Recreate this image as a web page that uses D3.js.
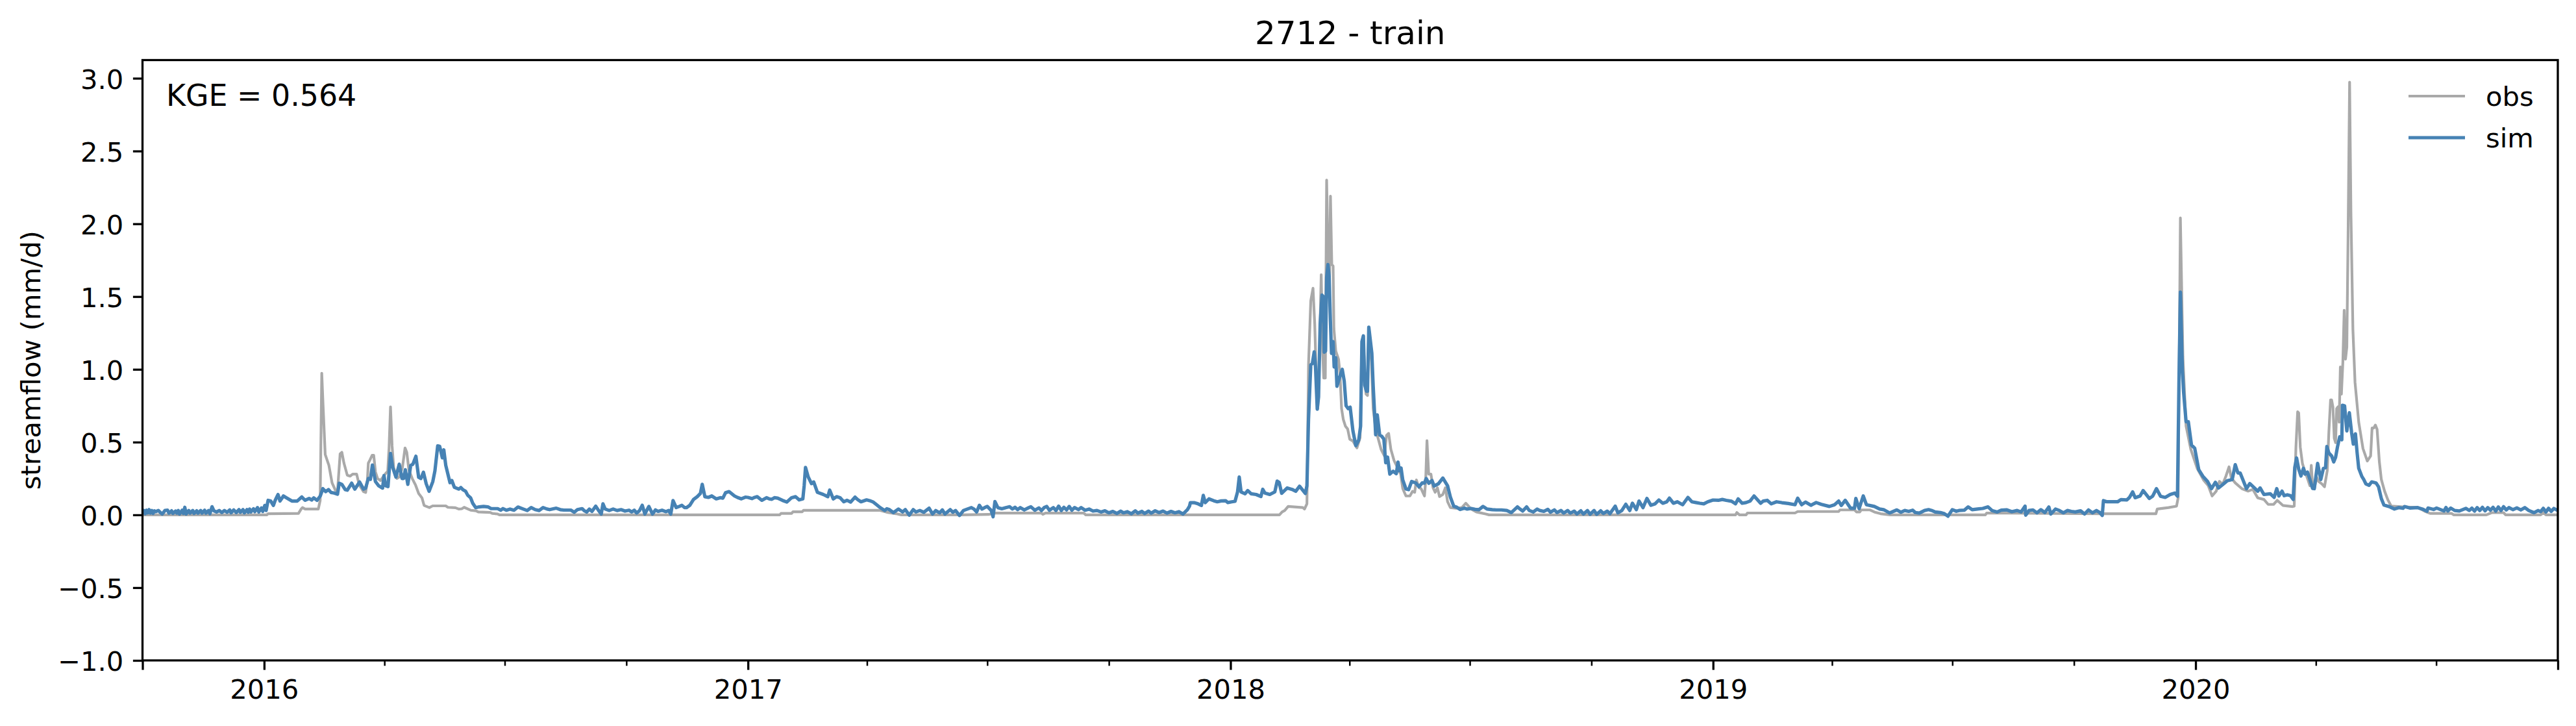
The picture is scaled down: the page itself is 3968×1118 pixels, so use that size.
<!DOCTYPE html>
<html><head><meta charset="utf-8">
<script src="https://cdn.jsdelivr.net/npm/d3@7"></script>
<style>html,body{margin:0;padding:0;background:#fff}svg{display:block}text{font-family:"DejaVu Sans";fill:#000}</style>
</head><body>
<script>
const chartTitle = "2712 - train";
const yAxisLabel = "streamflow (mm/d)";
const kgeLabel = "KGE = 0.564";
const seriesNames = ["obs", "sim"];
const yTicks = [-1, -0.5, 0, 0.5, 1, 1.5, 2, 2.5, 3];
const yRange = [-1, 3.125];
const startDate = "2015-10-01";
const endDate = "2020-10-01";
const yearTicks = ["2016-01-01","2017-01-01","2018-01-01","2019-01-01","2020-01-01"];
const edgeTicks = ["2015-10-01","2020-10-01"];

// readings are [days since 2015-10-01, mm/d]
const obs2016 = [[0,0],[94,0],[95,.008],[118,.01],[120,.04],[121,.05],[123,.04],[133,.04],[134.4,.1],[135.6,.973],[136.6,.75],[138.2,.415],[141,.34],[143.4,.22],[145.9,.17],[147.5,.16],[149.5,.42],[150.8,.43],[152.4,.355],[154.9,.273],[157,.266],[159,.28],[162,.28],[163.9,.206],[167.2,.16],[168.8,.154],[170.1,.236],[170.8,.355],[172.1,.378],[173.7,.41],[174.9,.41],[176.2,.296],[177.8,.25],[180,.236],[183.5,.28],[185.5,.3],[186.5,.46],[187.6,.742],[188.8,.474],[190,.325],[192.5,.25],[194.2,.26],[196.6,.325],[198.6,.46],[199.9,.43],[201.5,.31],[204,.25],[206.5,.206],[208.9,.147],[211.4,.117],[213,.065],[217,.05],[219.5,.062],[229.4,.062],[231,.052],[236.7,.049],[239.2,.04],[241.5,.042],[243.3,.052],[248.2,.032],[252.3,.028],[254,.02],[263,.017],[264.6,.01],[268.7,.006],[270,0]];
const obs2017 = [[270,0],[482,0],[483,.01],[491,.01],[492,.021],[499,.021],[500,.031],[558,.031],[563,.018],[570,.008],[574,0],[620,0],[640,.003],[645,.012],[680,.012],[681,.004],[683,.012],[712,.012],[713.5,0],[860,0]];
const obs2018 = [[860,0],[862,.02],[864,.03],[866.6,.058],[877.8,.05],[879,.04],[880,.06],[880.8,.076],[882,1.03],[883.7,1.47],[885.4,1.557],[886.7,1.31],[887.8,.97],[889,.73],[890.3,1.126],[891.6,1.65],[892.7,1.126],[893.5,.94],[894.7,.94],[895.7,2.3],[896.8,1.75],[897.8,1.55],[898.6,2.19],[899.6,1.72],[900.6,1.71],[901.2,1.28],[902.6,1.126],[904.7,1.07],[905.8,.97],[907,.73],[908.3,.656],[909.9,.61],[911.6,.59],[913.2,.52],[915.6,.507],[918.6,.46],[921,.53],[922.2,1.126],[923.5,1.23],[924.6,.92],[925.5,.83],[926.6,.82],[927.6,1.28],[929.6,1.05],[930.9,.73],[932.8,.59],[934.5,.53],[936.9,.45],[939.4,.405],[941,.546],[942.6,.56],[944.3,.45],[946.7,.374],[949.2,.327],[951.7,.28],[953.3,.18],[955.7,.13],[958.7,.13],[960.7,.162],[962.3,.155],[963.6,.24],[965.6,.186],[967.2,.18],[969.7,.13],[970.6,.23],[971.6,.51],[972.9,.28],[974.6,.28],[976.2,.186],[977.8,.155],[979.5,.186],[981.1,.126],[983.6,.14],[985.5,.186],[987.2,.09],[989.3,.05],[993.4,.045]];
const obs2019 = [[993.4,.045],[998,.05],[1001,.08],[1005,.04],[1009,.02],[1016,.006],[1018.6,0],[1205,0],[1206,.016],[1208,0],[1213,0],[1214,.013],[1250,.013],[1252,.023],[1283,.023],[1284,.034],[1295,.034],[1296.5,.02],[1299,.02],[1300,.034],[1306.8,.034],[1310,.02],[1314.7,.008],[1322,0],[1394,0],[1395,.013],[1481,.008],[1523,.008],[1524,.04],[1532.6,.05],[1538.6,.06]];
const obs2020 = [[1538.6,.06],[1539.8,.117],[1541.5,2.04],[1543.4,1.085],[1545.8,.61],[1549.4,.45],[1554.2,.32],[1559,.24],[1562.6,.2],[1565.5,.13],[1568.6,.163],[1571,.23],[1573.5,.21],[1575.9,.265],[1578.3,.33],[1580,.254],[1583,.22],[1588,.18],[1592.7,.163],[1596.3,.175],[1600,.117],[1604.7,.106],[1607.9,.072],[1612,.072],[1614.8,.1],[1619,.065],[1626.4,.057],[1627.6,.06],[1628.9,.465],[1630.2,.708],[1631,.7],[1632.2,.465],[1633.8,.354],[1635.5,.304],[1637.9,.243],[1639.5,.2],[1640.5,.34],[1641.5,.2],[1642.8,.18],[1644.5,.26],[1646,.23],[1648.5,.213],[1650.5,.193],[1652.6,.304],[1653.8,.567],[1655.1,.79],[1655.9,.79],[1656.9,.74],[1657.9,.526],[1658.9,.496],[1659.7,.73],[1660.8,.743],[1661.6,.637],[1662.5,1.016],[1663.3,.83],[1664.4,1.05],[1665.4,1.406],[1666.4,1.07],[1667.4,1.153],[1668.3,1.88],[1669.5,2.973],[1670.5,2.08],[1672,1.274],[1673.6,.91],[1676.4,.637],[1679.6,.456],[1682.9,.37],[1685.4,.405],[1686.5,.597],[1687.8,.597],[1689,.617],[1690.3,.587],[1692,.365],[1693.5,.243],[1696,.162],[1698.5,.102],[1701,.06],[1710,.055],[1721.4,.05],[1726.3,.025],[1730.4,.01],[1746.7,.01],[1748.4,0],[1773,0],[1777,.015],[1786,.015],[1787.5,0],[1814,0],[1816,.015],[1818,0],[1827,0]];

const sim2015 = [[0,.012],[1,.03],[2,.008],[3,.032],[4,.014],[5,.036],[6,.012],[7,.03],[8,.01],[9,.028],[10,.022],[12,.03],[14,.012],[15,.006],[17,.03],[19,.032],[20,.012],[22,.028],[23,.01],[25,.026],[26,.012],[27,.03],[28,.006],[30,.032],[31,.01],[32,.052],[33,.006],[35,.03],[36,.012],[38,.03],[39,.01],[41,.028],[42,.012],[44,.03],[45,.012],[47,.032],[48,.012],[50,.03],[51,.008],[52.6,.056],[54,.028],[56,.02],[58,.03],[60,.016],[62,.03],[64,.018],[66,.034],[67,.014],[69,.034],[71,.016],[73,.036],[74,.018],[76,.036],[77,.014],[79,.036],[80,.018],[81,.04],[82,.02],[84,.042],[85,.022],[87,.05],[88,.02],[90,.048],[91,.024],[92.5,.065],[93.5,.03]];
const sim2016 = [[95,.1],[97,.095],[99,.065],[100.4,.1],[102.5,.14],[104,.095],[106.6,.13],[109,.117],[113,.095],[117,.095],[120.5,.123],[123,.1],[126,.113],[128,.102],[129.5,.117],[132,.1],[134.5,.13],[136.4,.18],[138.5,.16],[140.7,.174],[142.6,.154],[145,.15],[147.5,.142],[148.8,.217],[150.8,.21],[153.3,.174],[154.9,.17],[158.2,.218],[160.6,.177],[164.2,.226],[167.2,.177],[168.8,.184],[170.8,.25],[172.4,.244],[173.9,.343],[176.2,.229],[178.6,.2],[181.6,.184],[182.7,.27],[183.9,.2],[185.7,.194],[187.6,.422],[189.3,.325],[191.7,.26],[194.2,.348],[196.3,.25],[197.5,.25],[198.8,.31],[200.7,.21],[202.9,.34],[204.5,.348],[206.8,.403],[208.9,.258],[210.6,.25],[212.5,.293],[214.6,.214],[216.8,.162],[219.6,.229],[221.2,.303],[223.3,.474],[224.8,.471],[226.8,.392],[227.9,.447],[229.4,.34],[232.6,.221],[234,.236],[235.9,.19],[239.2,.177],[240.8,.188],[242.5,.172],[244.4,.162],[246,.135],[248.2,.117],[249.8,.08],[252,.05],[254.7,.055],[258,.058],[261.3,.055],[263.7,.043],[268.7,.043],[271,.032],[272.7,.043],[275.2,.032],[278,.04],[281,.032],[284,.054],[288,.04],[291,.03],[294,.05],[297,.036],[300,.03],[303,.05],[306,.04],[308,.036],[313,.046],[316,.036],[318.7,.033],[324,.033],[326.6,.018],[329,.036],[332.5,.043],[334,.03],[336,.02],[338,.04],[340,.024],[342.8,.06],[345,.03],[347,.006],[348.3,.076],[350,.04],[353,.03],[356,.04],[359,.03],[362,.036],[365,.026],[368,.032],[370,.02],[372,.032],[373.8,.013],[376,.03],[378,.066],[380,.006],[383,.058],[385.8,.006],[388,.034],[390,.024],[393,.032],[396,.022],[398,.03],[399.6,.006]];
const sim2017 = [[401.3,.098],[403.7,.05],[406,.058],[408,.066],[410,.05],[411.6,.05],[414,.066],[416.8,.106],[419.6,.125],[422,.147],[423.4,.21],[425.4,.125],[428,.12],[430.6,.13],[434,.11],[437,.118],[439,.115],[441,.152],[443.7,.16],[447.8,.13],[450,.12],[453,.11],[456,.122],[458,.12],[461,.112],[463,.12],[465,.125],[468.5,.1],[472,.118],[474,.11],[476,.107],[478,.118],[480.5,.115],[484,.1],[487.4,.088],[491,.118],[494,.125],[496.7,.103],[499.5,.11],[500.5,.2],[501.5,.326],[503.6,.26],[506,.215],[507.7,.226],[510.5,.155],[515,.14],[518.4,.125],[519.8,.17],[522.5,.11],[525,.125],[527.7,.118],[530.5,.09],[533,.1],[535.6,.088],[539,.122],[541,.105],[543.5,.09],[547.7,.103],[550,.098],[552.8,.088],[555,.072],[558,.05],[561.4,.03],[563,.042],[565,.036],[568,.016],[571.8,.04],[575,.02],[577,.036],[580,-.002],[583,.036],[585,.02],[588,.03],[591,.018],[595,.046],[597.6,.006],[600,.03],[603,.014],[605,.034],[607,.006],[611,.036],[613,.018],[615,.03],[618,-.004],[621,.03],[624,.04],[627,.05],[629,.04],[631,.02],[633,.066],[635,.04],[637,.05],[639,.058],[642,.03],[643.4,-.013],[644.8,.092],[647,.05],[650,.042],[653,.05],[656,.056],[658,.04],[660,.052],[662,.036],[664,.05],[667,.034],[670,.048],[672,.056],[675,.032],[678,.048],[680,.03],[682,.05],[684,.058],[686,.032],[689,.05],[691,.03],[693,.06],[695,.03],[697,.052],[699,.034],[701,.058],[703,.032],[705,.05],[708,.036],[710,.05],[713,.032],[716,.04],[719,.026],[722,.03],[725,.02],[728,.028],[731,.014],[734,.024],[737,.01],[740,.026],[742,.014],[745,.022],[748,.008],[751,.028],[753,.012],[756,.024],[758,.01],[761,.026],[763,.012],[766,.028],[769,.016],[772,.026],[775,.012],[778,.024],[781,.014],[784,.022],[787,.006],[790.4,.036],[792,.06]];
const sim2018 = [[792.6,.084],[795.4,.084],[798.4,.076],[801,.065],[802.4,.134],[803.9,.084],[806.7,.11],[810.4,.097],[813,.09],[816,.096],[819.3,.097],[821,.085],[824,.09],[826.4,.093],[828.3,.157],[829.6,.26],[831,.157],[834,.145],[836,.167],[838.6,.145],[842.4,.14],[846,.126],[847.4,.176],[849,.15],[852.7,.14],[856.5,.158],[858.3,.232],[859.8,.223],[861.7,.148],[865.9,.185],[869.6,.175],[872.3,.162],[875.2,.197],[879.6,.147],[880.8,.2],[882,.656],[883.7,1.03],[884.9,1.04],[886.3,1.12],[887.3,1.016],[888.6,.726],[889.6,.81],[890.8,1.31],[892.2,1.51],[893.2,1.5],[893.9,1.118],[894.9,1.126],[895.7,1.63],[896.7,1.72],[897.6,1.64],[898.5,1.345],[899.4,1.11],[900.6,1.19],[901.4,1.016],[902.6,1.08],[903.5,.883],[905,.93],[907.5,1],[909,.92],[910.4,.75],[912,.73],[913.5,.74],[915.6,.577],[917.8,.476],[920,.515],[921.4,.61],[922.4,1.19],[923.5,1.23],[924.6,.89],[925.8,.85],[926.6,.85],[927.6,1.29],[929.9,1.11],[930.9,.89],[932.8,.55],[934,.687],[935.8,.55],[937.4,.54],[939,.52],[940.4,.358],[941.8,.397],[943.5,.28],[946,.3],[948.4,.283],[949.7,.363],[950.8,.303],[952,.322],[953.3,.24],[955.7,.178],[957.7,.173],[960,.23],[963,.22],[965.6,.193],[968,.22],[969.7,.218],[971,.25],[973,.217],[975.4,.236],[977,.198],[980.3,.214],[983.6,.253],[987.2,.2],[989.3,.123],[991.8,.06],[994,.053],[996.7,.037],[1000,.046],[1002,.04],[1005,.044],[1008,.038],[1011,.036],[1014,.058],[1017,.04],[1021,.036],[1024,.034],[1028,.034],[1032,.03],[1035.4,.016],[1040,.055],[1042,.04],[1044,.026],[1047,.055],[1049,.03],[1052,.02],[1055,.04],[1057,.03],[1060,.024],[1063,.038],[1065,.018],[1068,.034],[1070,.016],[1073,.03],[1075,.012],[1078,.03],[1080,.012],[1083,.026],[1085,.006],[1088,.028],[1090,.006],[1093,.03],[1095,.004],[1098,.03],[1100,.004],[1103,.028],[1105,.01],[1108,.026],[1110,.008]];
const sim2019 = [[1114,.06],[1116,.014],[1119,.03],[1122,.073],[1125,.03],[1127,.08],[1130,.036],[1132,.095],[1135,.05],[1138,.113],[1141,.066],[1144,.075],[1147,.102],[1150,.08],[1153,.09],[1155,.115],[1158,.08],[1161,.09],[1165,.07],[1169,.12],[1172,.09],[1175,.085],[1178,.08],[1181,.076],[1184,.09],[1188,.102],[1192,.1],[1195,.106],[1198,.1],[1202,.094],[1205,.076],[1207,.11],[1210,.08],[1213,.085],[1216,.095],[1219,.13],[1224,.08],[1226,.095],[1229,.1],[1232,.076],[1236,.09],[1240,.084],[1245,.078],[1250,.07],[1252,.115],[1255,.07],[1258,.088],[1262,.066],[1266,.085],[1270,.072],[1276,.058],[1280,.07],[1283,.095],[1285,.065],[1288,.1],[1292,.046],[1295,.046],[1296,.113],[1298.5,.043],[1301.6,.13],[1304,.07],[1310,.058],[1314,.04],[1317,.036],[1321.6,.013],[1327,.034],[1330,.018],[1333,.03],[1336,.024],[1339,.032],[1341,.016],[1344,.012],[1348,.03],[1351,.036],[1354,.028],[1356,.02],[1360,.016],[1363,.008],[1365.7,-.009],[1369,.036],[1372,.025],[1374,.03],[1378,.032],[1381,.055],[1384,.036],[1388,.04],[1392,.044],[1396,.055],[1399,.03],[1403,.02],[1406,.032],[1410,.035],[1414,.022],[1418,.03],[1421,.02],[1424,.06],[1424.5,-.002],[1427,.03],[1430,.034],[1433,.014],[1436,.036],[1439,.016],[1442,.054],[1443.5,.006],[1447,.04],[1450,.03],[1453,.014],[1456,.03],[1459,.024],[1462,.02],[1466,.028],[1469,.006],[1472,.034],[1475,.014],[1478,.03],[1480.5,.016],[1482.4,-.004]];
const sim2020 = [[1483.3,.098],[1486,.09],[1490,.09],[1494,.09],[1496.5,.105],[1501,.103],[1503,.12],[1505.4,.158],[1507.3,.118],[1511,.13],[1513.3,.167],[1518,.113],[1520.5,.128],[1523.4,.18],[1526.5,.128],[1530,.12],[1533.8,.14],[1537.4,.15],[1539.3,.128],[1540.4,.9],[1541.5,1.53],[1543,.994],[1543.9,.846],[1545.8,.64],[1547.5,.64],[1549.9,.48],[1552.3,.459],[1555.4,.31],[1558.5,.265],[1562,.23],[1565,.18],[1568,.224],[1570.3,.185],[1573.5,.208],[1577,.235],[1580.7,.243],[1583,.345],[1585,.288],[1586.7,.288],[1591.5,.18],[1594,.215],[1597.5,.185],[1600,.163],[1601.8,.185],[1604.7,.14],[1609.5,.145],[1612.4,.12],[1614.4,.18],[1616,.13],[1618.4,.163],[1620,.132],[1622.4,.138],[1624.8,.132],[1626.8,.106],[1628,.324],[1629.4,.391],[1631,.314],[1632.7,.267],[1634.6,.32],[1635.8,.28],[1637.6,.294],[1639.5,.243],[1641.5,.182],[1642.8,.18],[1645.3,.354],[1647.7,.243],[1649.7,.32],[1651.3,.324],[1652.3,.47],[1653.8,.425],[1655.9,.405],[1657.5,.364],[1658.9,.395],[1660.3,.466],[1662,.536],[1663.6,.516],[1664.1,.753],[1665.7,.749],[1667.4,.577],[1669.3,.702],[1671,.567],[1672.3,.486],[1673.9,.557],[1675.2,.425],[1676.4,.32],[1678.8,.263],[1680.2,.243],[1681.8,.213],[1684.2,.203],[1686.2,.227],[1689.5,.219],[1691.4,.193],[1693.5,.112],[1695.5,.067],[1700,.055],[1703.4,.04],[1706.6,.05],[1710,.045],[1711,.057],[1715,.047],[1721,.05],[1724.6,.04],[1728,.025],[1728.8,.047],[1733,.037],[1735.3,.047],[1741,.027],[1742.4,.051],[1743.8,.027],[1746,.047],[1749,.03],[1752.5,.027],[1757.4,.045],[1760,.03],[1762,.046],[1764,.026],[1766,.05],[1768,.03],[1770,.052],[1772,.028],[1774,.05],[1776,.032],[1778,.052],[1780,.026],[1782,.054],[1784,.03],[1786,.056],[1788,.034],[1790,.05],[1793,.036],[1796,.048],[1799,.034],[1802,.05],[1805,.03],[1809,.015],[1812,.03],[1814,.022],[1816,.045],[1818,.02],[1820,.045],[1822,.024],[1824,.044],[1827,.03]];

const obsReadings = [...obs2016, ...obs2017, ...obs2018, ...obs2019, ...obs2020];
const simReadings = [...sim2015, ...sim2016, ...sim2017, ...sim2018, ...sim2019, ...sim2020];

const W = 3968, H = 1118;
const box = {left: 219.5, right: 3940, top: 92.5, bottom: 1017};
const parse = d3.utcParse("%Y-%m-%d");
const t0 = parse(startDate);
const toDate = d => new Date(+t0 + d * 864e5);

const x = d3.scaleUtc().domain([t0, parse(endDate)]).range([box.left, box.right]);
const y = d3.scaleLinear().domain(yRange).range([box.bottom, box.top]);

const svg = d3.select("body").append("svg").attr("width", W).attr("height", H).attr("viewBox", `0 0 ${W} ${H}`);
svg.append("defs").append("clipPath").attr("id", "plot").append("rect")
  .attr("x", box.left).attr("y", box.top).attr("width", box.right - box.left).attr("height", box.bottom - box.top);

const line = d3.line().x(d => x(toDate(d[0]))).y(d => y(d[1]));
const plot = svg.append("g").attr("clip-path", "url(#plot)");
plot.append("path").datum(obsReadings).attr("d", line).attr("fill", "none").attr("stroke", "#a9a9a9").attr("stroke-width", 4.17).attr("stroke-linejoin", "round");
plot.append("path").datum(simReadings).attr("d", line).attr("fill", "none").attr("stroke", "#4682b4").attr("stroke-width", 5.2).attr("stroke-linejoin", "round");

// minor x ticks: first of Apr, Jul, Oct
const minorTicks = d3.utcMonth.range(t0, parse(endDate)).filter(d => [3, 6, 9].includes(d.getUTCMonth()) && +d !== +t0);
const gx = svg.append("g").attr("transform", `translate(0,${box.bottom})`);
gx.append("g").call(d3.axisBottom(x).tickValues(minorTicks).tickSize(8.3).tickFormat(""))
  .call(g => { g.select(".domain").remove(); g.selectAll("line").attr("stroke-width", 2.5).attr("stroke", "#000"); });
gx.append("g").call(d3.axisBottom(x).tickValues(edgeTicks.map(parse)).tickSize(14.6).tickFormat(""))
  .call(g => { g.select(".domain").remove(); g.selectAll("line").attr("stroke-width", 3.3).attr("stroke", "#000"); });
gx.append("g").call(d3.axisBottom(x).tickValues(yearTicks.map(parse)).tickSize(14.6).tickPadding(14.6).tickFormat(d3.utcFormat("%Y")))
  .call(g => {
    g.select(".domain").remove();
    g.selectAll("line").attr("stroke-width", 3.3).attr("stroke", "#000");
    g.selectAll("text").attr("font-size", 41.67).attr("font-family", "DejaVu Sans").attr("fill", "#000");
  });

svg.append("g").attr("transform", `translate(${box.left},0)`)
  .call(d3.axisLeft(y).tickValues(yTicks).tickSize(14.6).tickPadding(14.6).tickFormat(d3.format(".1f")))
  .call(g => {
    g.select(".domain").remove();
    g.selectAll("line").attr("stroke-width", 3.3).attr("stroke", "#000");
    g.selectAll("text").attr("font-size", 41.67).attr("font-family", "DejaVu Sans").attr("fill", "#000").attr("dy", "0.38em");
  });

svg.append("rect").attr("x", box.left).attr("y", box.top).attr("width", box.right - box.left).attr("height", box.bottom - box.top)
  .attr("fill", "none").attr("stroke", "#000").attr("stroke-width", 3.3);

svg.append("text").attr("x", (box.left + box.right) / 2).attr("y", 68).attr("text-anchor", "middle").attr("font-size", 50).text(chartTitle);
svg.append("text").attr("transform", `translate(62,${(box.top + box.bottom) / 2}) rotate(-90)`).attr("text-anchor", "middle").attr("font-size", 41.67).text(yAxisLabel);
svg.append("text").attr("x", 256).attr("y", 163).attr("font-size", 45.83).text(kgeLabel);

const legendRows = [{name: seriesNames[0], color: "#a9a9a9", w: 4.17, cy: 148}, {name: seriesNames[1], color: "#4682b4", w: 5.2, cy: 212}];
const legend = svg.append("g").selectAll("g").data(legendRows).join("g");
legend.append("line").attr("x1", 3710).attr("x2", 3797).attr("y1", d => d.cy).attr("y2", d => d.cy).attr("stroke", d => d.color).attr("stroke-width", d => d.w);
legend.append("text").attr("x", 3829).attr("y", d => d.cy + 14.5).attr("font-size", 41.67).text(d => d.name);
</script>
</body></html>
